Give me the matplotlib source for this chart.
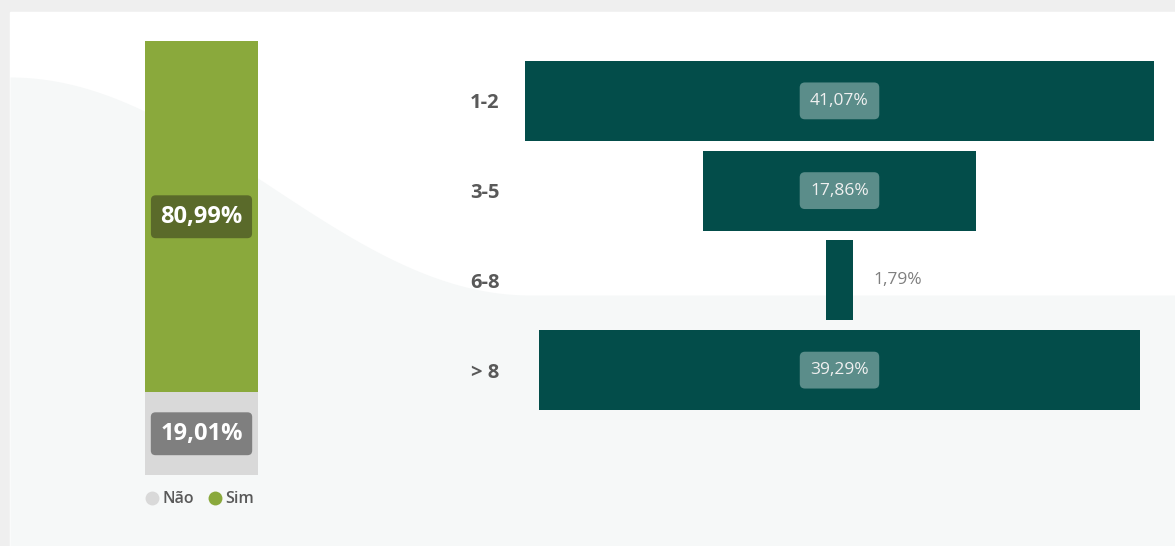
import matplotlib.pyplot as plt
import numpy as np

plt.rcParams['font.family'] = ['Open Sans', 'DejaVu Sans']

# Dados
resposta = ["Não", "Sim"]
resposta_pct = [19.01, 80.99]
resposta_cores = ["#d9d9d9", "#8aa93c"]
resposta_caixa = ["#7f7f7f", "#5a6a2a"]

faixas = ["1-2", "3-5", "6-8", "> 8"]
faixas_pct = [41.07, 17.86, 1.79, 39.29]

def fmt(v):
    return f"{v:.2f}%".replace(".", ",")

W, H = 1175, 546
fig = plt.figure(figsize=(W / 100, H / 100), dpi=100)
fig.patch.set_facecolor("#efefef")

# fundo (cartao branco com onda suave)
bg = fig.add_axes([0, 0, 1, 1])
bg.set_xlim(0, W)
bg.set_ylim(H, 0)
bg.axis("off")
bg.add_patch(plt.Rectangle((10, 12), W - 10, H - 12, color="white", zorder=0))
xs = np.linspace(10, W, 300)
t = np.clip((xs - 10) / 520, 0, 1)
onda = 77 + 218 * (1 - np.cos(t * np.pi)) / 2
bg.fill_between(xs, onda, H, color="#f6f8f8", zorder=1, lw=0)

# barra empilhada (Sim / Não)
ax1 = fig.add_axes([145 / W, (H - 475) / H, 113 / W, 434 / H])
ax1.patch.set_alpha(0)
base = 0
for nome, v, c, cx in zip(resposta, resposta_pct, resposta_cores, resposta_caixa):
    ax1.bar(0, v, bottom=base, width=1, color=c, lw=0)
    ax1.text(0, base + v / 2, fmt(v), ha="center", va="center", color="white",
             fontsize=17, fontweight="bold",
             bbox=dict(boxstyle="round,pad=0.4,rounding_size=0.2", fc=cx, ec="none"))
    base += v
ax1.set_xlim(-0.5, 0.5)
ax1.set_ylim(0, 100)
ax1.axis("off")

# legenda
for i, (nome, c) in enumerate(zip(resposta, resposta_cores)):
    x0 = 152 + i * 63
    bg.scatter(x0, 498, s=100, color=c, zorder=3, lw=0)
    bg.text(x0 + 10, 499, nome, ha="left", va="center", fontsize=11.5,
            fontweight="semibold", color="#595959", zorder=3)

# funil
ax2 = fig.add_axes([440 / W, (H - 415) / H, (W - 440) / W, 359 / H])
ax2.patch.set_alpha(0)
y = np.arange(len(faixas))
ax2.barh(y, faixas_pct, left=[-v / 2 for v in faixas_pct], height=0.89,
         color="#034d4a", lw=0)
for yi, v in zip(y, faixas_pct):
    if v > 5:
        ax2.text(0, yi, fmt(v), ha="center", va="center", color="#f0f0f0",
                 fontsize=12.5,
                 bbox=dict(boxstyle="round,pad=0.6,rounding_size=0.3",
                           fc="#5b8d8a", ec="none"))
    else:
        ax2.text(v / 2 + 1.3, yi, fmt(v), ha="left", va="center",
                 color="#7f7f7f", fontsize=12.5)
ax2.set_xlim(-(839.5 - 440) / 15.3, (W - 839.5) / 15.3)
ax2.set_ylim(3.5, -0.5)
ax2.set_yticks(y)
ax2.set_yticklabels(faixas, fontsize=14.5, fontweight="bold", color="#595959")
ax2.set_xticks([])
ax2.tick_params(axis="y", length=0, pad=-43)
for s in ax2.spines.values():
    s.set_visible(False)

fig.savefig("out.png", dpi=100, facecolor=fig.get_facecolor())
